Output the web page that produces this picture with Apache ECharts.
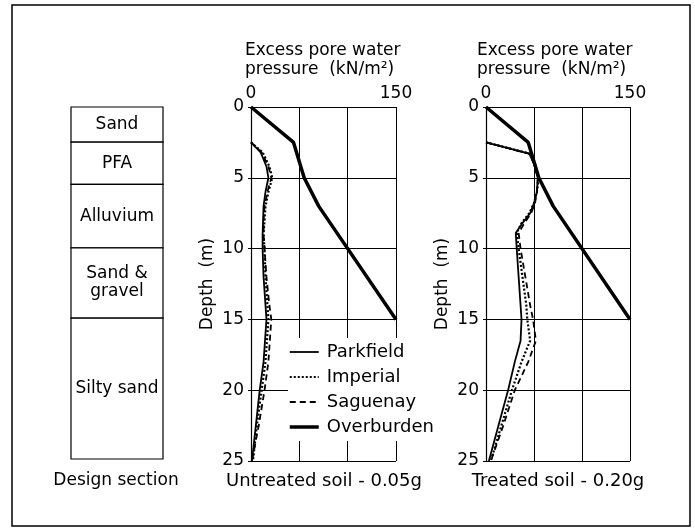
<!DOCTYPE html>
<html>
<head>
<meta charset="utf-8">
<script src="https://cdn.jsdelivr.net/npm/echarts/dist/echarts.min.js"></script>
<style>
html,body{margin:0;padding:0;background:#fff;}
#chart{width:695px;height:529px;}
</style>
</head>
<body>
<div id="chart"></div>
<script>
// ---- Design section layers ----
const layerNames = ['Sand', 'PFA', 'Alluvium', 'Sand &\ngravel', 'Silty sand'];
const layerTops = [0, 2.5, 5.5, 10, 15];
const layerBottoms = [2.5, 5.5, 10, 15, 25];

// ---- Axis ticks ----
const depthTicks = [0, 5, 10, 15, 20, 25];
const pressureTicks = [0, 50, 100, 150];
const pressureLabels = [0, 150];

// ---- Overburden (same in both panels) ----
const overDepth = [0, 2.5, 5, 7, 15];
const overVal = [0, 44, 55, 70, 150];

// ---- Untreated soil - 0.05g ----
const uDepth = [2.5, 3.2, 4.2, 5, 6, 7, 8, 9, 10, 12, 14, 15, 16, 18, 20, 22.5, 25];
const uPark  = [0, 10, 16, 18, 15, 13, 12.5, 12, 12, 13, 15, 16, 15, 13, 9, 5, 1];
const uImp   = [0, 12, 19, 22, 18, 15, 14, 13, 14, 15, 17, 18, 17, 15, 11, 6, 2];
const uSag   = [0, 11, 18, 21, 17, 14, 13, 13, 14, 16, 19, 21, 20, 18, 14, 8, 1];

// ---- Treated soil - 0.20g ----
const tDepth = [2.5, 3.3, 4, 5, 6, 6.8, 7.5, 8.2, 8.9, 10, 12, 14, 15, 16.5, 18, 20, 22.5, 25];
const tPark  = [0, 45, 50, 54, 53, 50, 46, 38, 31, 32, 34, 36, 37, 36, 30, 23, 13, 3];
const tImp   = [0, 46, 51, 55, 53, 50, 45, 37, 32, 34, 38, 42, 43, 46, 37, 27, 16, 5];
const tSag   = [0, 45, 50, 54, 53, 51, 47, 40, 34, 36, 41, 46, 49, 52, 44, 30, 18, 5];

const seriesNames = ['Parkfield', 'Imperial', 'Saguenay', 'Overburden'];

const FONT = 'DejaVu Sans';
const pairs = (vals, depths) => vals.map((v, i) => [v, depths[i]]);

const styles = {
  Parkfield:  {width: 1.8, type: 'solid'},
  Imperial:   {width: 2.2, type: [2, 2]},
  Saguenay:   {width: 1.8, type: [6, 4]},
  Overburden: {width: 3.5, type: 'solid'}
};

function lineSeries(name, data, idx) {
  return {
    name: name, type: 'line', xAxisIndex: idx, yAxisIndex: idx,
    data: data, symbol: 'none', smooth: false, clip: true,
    z: name === 'Overburden' ? 5 : 3,
    lineStyle: {color: '#000', width: styles[name].width, type: styles[name].type},
    itemStyle: {color: '#000'}
  };
}

function pressureAxis(idx) {
  return {
    type: 'value', gridIndex: idx, position: 'top', min: 0, max: 150, interval: 50,
    axisLine: {show: true, lineStyle: {color: '#000', width: 1.2}},
    axisTick: {show: false},
    axisLabel: {
      show: true, margin: 5, color: '#000', fontSize: 17, fontFamily: FONT,
      formatter: v => pressureLabels.indexOf(v) >= 0 ? String(v) : ''
    },
    splitLine: {show: true, lineStyle: {color: '#000', width: 1}}
  };
}
function depthAxis(idx) {
  return {
    type: 'value', gridIndex: idx, inverse: true, min: 0, max: 25, interval: 5,
    name: 'Depth  (m)', nameLocation: 'middle', nameRotate: 90, nameGap: 35,
    nameTextStyle: {color: '#000', fontSize: 17, fontFamily: FONT},
    axisLine: {show: true, lineStyle: {color: '#000', width: 1.2}},
    axisTick: {show: true, length: 3, lineStyle: {color: '#000'}},
    axisLabel: {
      show: true, margin: 7, color: '#000', fontSize: 17, fontFamily: FONT,
      formatter: v => depthTicks.indexOf(v) >= 0 ? String(v) : ''
    },
    splitLine: {show: true, lineStyle: {color: '#000', width: 1}}
  };
}

const chart = echarts.init(document.getElementById('chart'), null, {renderer: 'canvas'});

const option = {
  animation: false,
  backgroundColor: '#fff',
  textStyle: {fontFamily: FONT, color: '#000'},
  grid: [
    {left: 71, top: 107, width: 92, height: 352},
    {left: 251, top: 107, width: 145, height: 354},
    {left: 486, top: 107, width: 144, height: 354}
  ],
  xAxis: [
    {type: 'value', gridIndex: 0, min: 0, max: 1, show: false},
    pressureAxis(1),
    pressureAxis(2)
  ],
  yAxis: [
    {type: 'value', gridIndex: 0, min: 0, max: 25, inverse: true, show: false},
    depthAxis(1),
    depthAxis(2)
  ],
  legend: {
    data: seriesNames.map(n => ({name: n, lineStyle: {width: styles[n].width, type: styles[n].type, color: '#000'}})),
    orient: 'vertical',
    left: 288, top: 338,
    padding: [5, 4, 5, 0],
    itemWidth: 29, itemHeight: 14, itemGap: 7,
    backgroundColor: '#fff',
    selectedMode: false,
    itemStyle: {color: 'rgba(0,0,0,0)', borderWidth: 0, opacity: 0},
    textStyle: {color: '#000', fontSize: 18, fontFamily: FONT, lineHeight: 18, padding: [0, 0, 0, 3]},
    z: 10
  },
  graphic: [
    {type: 'rect', shape: {x: 12, y: 5, width: 678, height: 521},
     style: {fill: 'none', stroke: '#000', lineWidth: 1.5}, z: -1, silent: true},
    {type: 'text', x: 245, y: 41,
     style: {text: 'Excess pore water\npressure  (kN/m²)', font: '17px "DejaVu Sans"', fill: '#000', lineHeight: 19}},
    {type: 'text', x: 477, y: 41,
     style: {text: 'Excess pore water\npressure  (kN/m²)', font: '17px "DejaVu Sans"', fill: '#000', lineHeight: 19}},
    {type: 'text', x: 116, y: 481,
     style: {text: 'Design section', font: '17px "DejaVu Sans"', fill: '#000', align: 'center', verticalAlign: 'middle'}},
    {type: 'text', x: 324, y: 481,
     style: {text: 'Untreated soil - 0.05g', font: '18px "DejaVu Sans"', fill: '#000', align: 'center', verticalAlign: 'middle'}},
    {type: 'text', x: 558, y: 481,
     style: {text: 'Treated soil - 0.20g', font: '18px "DejaVu Sans"', fill: '#000', align: 'center', verticalAlign: 'middle'}}
  ],
  series: [
    {
      type: 'custom', name: 'Design section', xAxisIndex: 0, yAxisIndex: 0,
      data: layerTops.map((t, i) => [t, layerBottoms[i]]),
      encode: {y: [0, 1]},
      clip: false,
      renderItem: function (params, api) {
        const p1 = api.coord([0, api.value(0)]);
        const p2 = api.coord([1, api.value(1)]);
        return {
          type: 'rect',
          shape: {x: p1[0], y: p1[1], width: p2[0] - p1[0], height: p2[1] - p1[1]},
          style: {fill: '#fff', stroke: '#000', lineWidth: 1.2},
          textContent: {
            type: 'text',
            style: {text: layerNames[params.dataIndex], font: '17px "DejaVu Sans"', fill: '#000',
                    align: 'center', lineHeight: 18}
          },
          textConfig: {position: 'inside'}
        };
      }
    },
    lineSeries('Parkfield', pairs(uPark, uDepth), 1),
    lineSeries('Imperial', pairs(uImp, uDepth), 1),
    lineSeries('Saguenay', pairs(uSag, uDepth), 1),
    lineSeries('Overburden', pairs(overVal, overDepth), 1),
    lineSeries('Parkfield', pairs(tPark, tDepth), 2),
    lineSeries('Imperial', pairs(tImp, tDepth), 2),
    lineSeries('Saguenay', pairs(tSag, tDepth), 2),
    lineSeries('Overburden', pairs(overVal, overDepth), 2)
  ]
};
chart.setOption(option);
</script>
</body>
</html>
